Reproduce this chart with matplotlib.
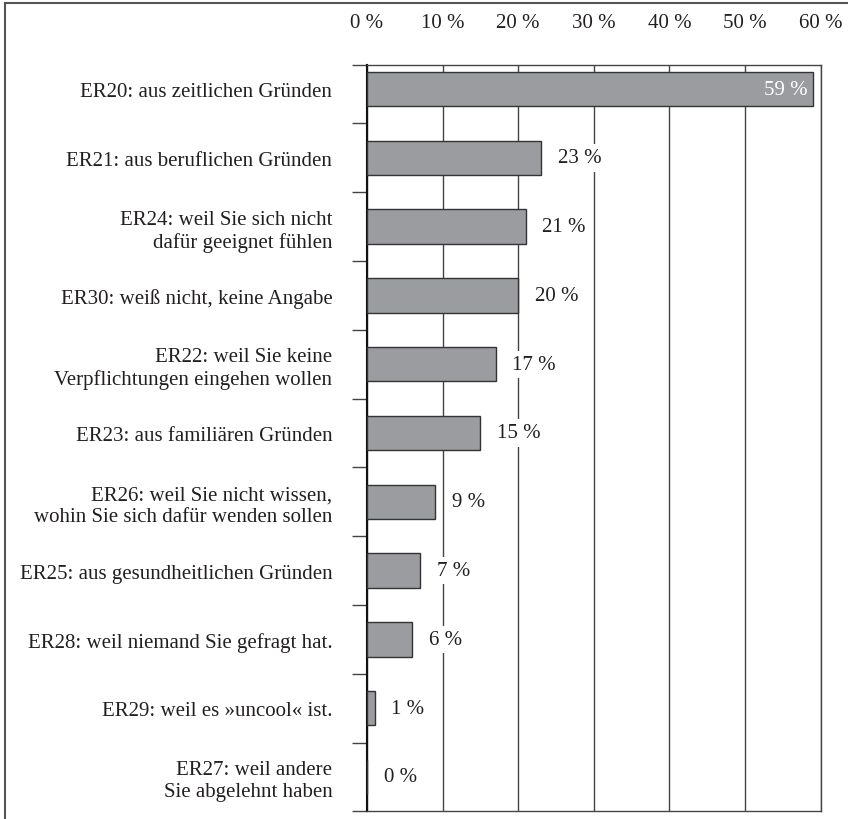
import matplotlib
matplotlib.use("Agg")
import matplotlib.pyplot as plt
from matplotlib.patches import Rectangle

categories = [
    "ER20: aus zeitlichen Gründen",
    "ER21: aus beruflichen Gründen",
    "ER24: weil Sie sich nicht\ndafür geeignet fühlen",
    "ER30: weiß nicht, keine Angabe",
    "ER22: weil Sie keine\nVerpflichtungen eingehen wollen",
    "ER23: aus familiären Gründen",
    "ER26: weil Sie nicht wissen,\nwohin Sie sich dafür wenden sollen",
    "ER25: aus gesundheitlichen Gründen",
    "ER28: weil niemand Sie gefragt hat.",
    "ER29: weil es »uncool« ist.",
    "ER27: weil andere\nSie abgelehnt haben",
]
values = [59, 23, 21, 20, 17, 15, 9, 7, 6, 1, 0]
x_ticks = [0, 10, 20, 30, 40, 50, 60]
x_tick_labels = ["0 %", "10 %", "20 %", "30 %", "40 %", "50 %", "60 %"]

plt.rcParams['font.family'] = ['Liberation Serif', 'DejaVu Serif']
TXT = '#231f20'
FS = 15

fig = plt.figure(figsize=(8.48, 8.2), dpi=100)
W, H = 848, 820
ax = fig.add_axes([367 / W, 1 - 812.3 / H, (820.6 - 367) / W, (812.3 - 66) / H])

pos = list(range(len(categories)))
ax.barh(pos, values, height=0.5, color='#9b9ca0', edgecolor='#333333', linewidth=1.0, zorder=3)

ax.set_xlim(0, 60)
ax.set_ylim(10.5, -0.35)

ax.set_xticks(x_ticks)
ax.set_xticklabels(x_tick_labels)
ax.xaxis.tick_top()
ax.tick_params(axis='x', length=0, pad=24, labelsize=FS, labelcolor=TXT)

ax.set_yticks(pos)
ax.set_yticklabels(categories)
ax.tick_params(axis='y', which='major', length=0, pad=25, labelsize=FS, labelcolor=TXT)
ax.set_yticks([i + 0.5 for i in range(len(categories))] + [-0.35], minor=True)
ax.tick_params(axis='y', which='minor', length=10.8, width=1.0, color='#444444', direction='out')

ax.grid(axis='x', color='#444444', linewidth=1.0, zorder=0)
ax.set_axisbelow(True)

for s in ['top', 'bottom', 'right']:
    ax.spines[s].set_color('#444444')
    ax.spines[s].set_linewidth(1.0)
ax.spines['left'].set_color('#111111')
ax.spines['left'].set_linewidth(1.5)

for i, v in enumerate(values):
    label = f"{v} %"
    if v > 50:
        ax.annotate(label, (v, i), xytext=(-4, 0), textcoords='offset points',
                    ha='right', va='center', fontsize=FS, color='white', zorder=5)
    else:
        ax.annotate(label, (v, i), xytext=(12, 0), textcoords='offset points',
                    ha='left', va='center', fontsize=FS, color=TXT, zorder=5,
                    bbox=dict(boxstyle='square,pad=0.2', facecolor='white', edgecolor='none'))

# outer frame (cropped on right and bottom)
fig.patches.append(Rectangle((5 / W, -0.05), 1.2, 1 - 4 / H + 0.05, transform=fig.transFigure,
                             fill=False, edgecolor='#555555', linewidth=1.5, figure=fig))

fig.savefig("out.png", dpi=100)
